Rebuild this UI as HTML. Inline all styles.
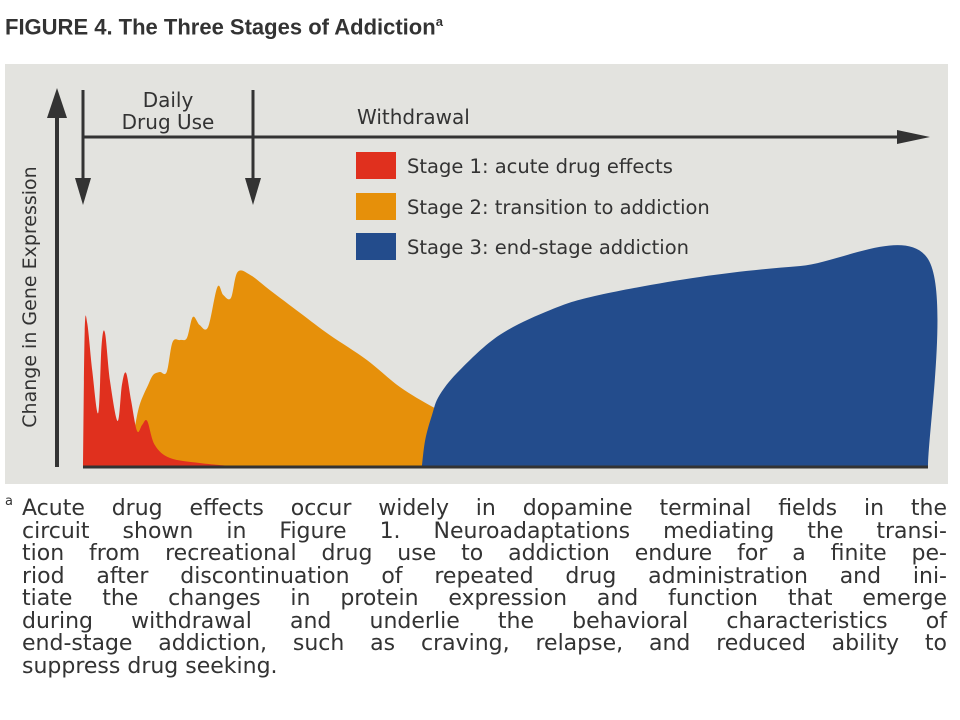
<!DOCTYPE html>
<html><head><meta charset="utf-8"><style>
body{margin:0;width:960px;height:720px;background:#fff;overflow:hidden;font-family:"DejaVu Sans","Liberation Sans",sans-serif;color:#2a2a2a;position:relative}
#title{position:absolute;left:5px;top:14px;font-size:22px;font-weight:bold;color:#333;font-family:"Liberation Sans",sans-serif}
#title sup{font-size:13px}
#panel{position:absolute;left:5px;top:64px;width:943px;height:420px;background:#e3e3df}
.cap{position:absolute;left:22px;width:925px;font-size:22px;color:#333;text-align:justify;text-align-last:justify;white-space:nowrap;line-height:22px}
</style></head><body>
<div id="title">FIGURE 4. The Three Stages of Addiction<sup>a</sup></div>
<div id="panel"></div>
<svg id="chart" width="960" height="720" style="position:absolute;left:0;top:0">
<g id="areas"></g>
<line x1="57" y1="467" x2="57" y2="110" stroke="#333" stroke-width="4"/>
<polygon points="47,118 57,88 67,118" fill="#333"/>
<line x1="83" y1="467" x2="928" y2="467" stroke="#333" stroke-width="3"/>
<line x1="83" y1="137" x2="905" y2="137" stroke="#333" stroke-width="3"/>
<polygon points="897,130 930,137 897,144" fill="#333"/>
<line x1="83" y1="90" x2="83" y2="180" stroke="#333" stroke-width="3"/>
<polygon points="75,178 83,205 91,178" fill="#333"/>
<line x1="253" y1="90" x2="253" y2="180" stroke="#333" stroke-width="3"/>
<polygon points="245,178 253,205 261,178" fill="#333"/>
<text x="168" y="107" font-size="20" text-anchor="middle" fill="#333" font-family="DejaVu Sans, sans-serif">Daily</text>
<text x="168" y="129" font-size="20" text-anchor="middle" fill="#333" font-family="DejaVu Sans, sans-serif">Drug Use</text>
<text x="357" y="124" font-size="20" fill="#333" font-family="DejaVu Sans, sans-serif">Withdrawal</text>
<text transform="translate(36,297) rotate(-90)" font-size="19" text-anchor="middle" fill="#333" font-family="DejaVu Sans, sans-serif">Change in Gene Expression</text>
<g>
<rect x="356" y="152" width="40" height="27" fill="#e0301e"/>
<text x="407" y="173" font-size="19.5" fill="#333" font-family="DejaVu Sans, sans-serif">Stage 1: acute drug effects</text>
<rect x="356" y="193" width="40" height="27" fill="#e6900a"/>
<text x="407" y="214" font-size="19.5" fill="#333" font-family="DejaVu Sans, sans-serif">Stage 2: transition to addiction</text>
<rect x="356" y="233" width="40" height="27" fill="#234c8c"/>
<text x="407" y="254" font-size="19.5" fill="#333" font-family="DejaVu Sans, sans-serif">Stage 3: end-stage addiction</text>
</g>
</svg>
<div style="position:absolute;left:5px;top:494px;font-size:13px;color:#333">a</div>
<div class="cap" style="top:498px">Acute drug effects occur widely in dopamine terminal fields in the</div>
<div class="cap" style="top:521px">circuit shown in Figure 1. Neuroadaptations mediating the transi-</div>
<div class="cap" style="top:543px">tion from recreational drug use to addiction endure for a finite pe-</div>
<div class="cap" style="top:566px">riod after discontinuation of repeated drug administration and ini-</div>
<div class="cap" style="top:588px">tiate the changes in protein expression and function that emerge</div>
<div class="cap" style="top:611px">during withdrawal and underlie the behavioral characteristics of</div>
<div class="cap" style="top:633px">end-stage addiction, such as craving, relapse, and reduced ability to</div>
<div class="cap" style="top:656px;text-align-last:left">suppress drug seeking.</div>
<script>
// time (0-100) and value (0-100) arrays per stage
const redT=[0,0.2,0.5,1.1,1.8,2.2,2.6,3.2,4.1,4.6,5.1,5.7,6.4,7,7.6,8.5,10.3,13.8,17.4,18.6];
const redV=[0,68,72,48,27,61,67,43,23,41,47,33,18,21,23,11,4.5,2,0.5,0];
const orangeT=[5.5,6.1,6.7,7.7,8.3,9.1,9.9,10.6,11.5,12.3,13,13.8,14.8,15.9,16.6,17.5,18.3,19.8,22.1,25.7,29.2,33.6,37.5,41.4,44.6,45.8];
const orangeV=[0,18.5,31,41,46,47.5,47.5,62.5,63.5,64.5,75,71,70,90,86,84.5,97.5,96,88.5,77,66,53.5,40,30,23.5,0];
const blueT=[40.1,40.5,41.3,42.2,44.6,49.3,55.3,61.1,73,84.9,100,100];
const blueV=[0,13.5,26,36,48.5,66,78.5,86,95,100.5,104,0];
function sx(t){return 83+t*8.45;}
function sy(v){return 467-v*2;}
function draw(T,V,color,name){
  const P=T.map((t,i)=>[sx(t),sy(V[i])]);
  let d='M'+P[0][0].toFixed(1)+','+sy(0)+' L'+P[0][0].toFixed(1)+','+P[0][1].toFixed(1);
  for(let i=0;i<P.length-1;i++){
    const p0=P[Math.max(0,i-1)],p1=P[i],p2=P[i+1],p3=P[Math.min(P.length-1,i+2)];
    const c1=[p1[0]+(p2[0]-p0[0])/6,p1[1]+(p2[1]-p0[1])/6];
    const c2=[p2[0]-(p3[0]-p1[0])/6,p2[1]-(p3[1]-p1[1])/6];
    d+=' C'+c1[0].toFixed(1)+','+c1[1].toFixed(1)+' '+c2[0].toFixed(1)+','+c2[1].toFixed(1)+' '+p2[0].toFixed(1)+','+p2[1].toFixed(1);
  }
  d+=' L'+P[P.length-1][0].toFixed(1)+','+sy(0)+' Z';
  const p=document.createElementNS('http://www.w3.org/2000/svg','path');
  p.setAttribute('d',d);p.setAttribute('fill',color);
  
  
  document.getElementById('areas').appendChild(p);
}
draw(orangeT,orangeV,'#e6900a','stage2-area');
draw(redT,redV,'#e0301e','stage1-area');
draw(blueT,blueV,'#234c8c','stage3-area');
</script>
</body></html>
